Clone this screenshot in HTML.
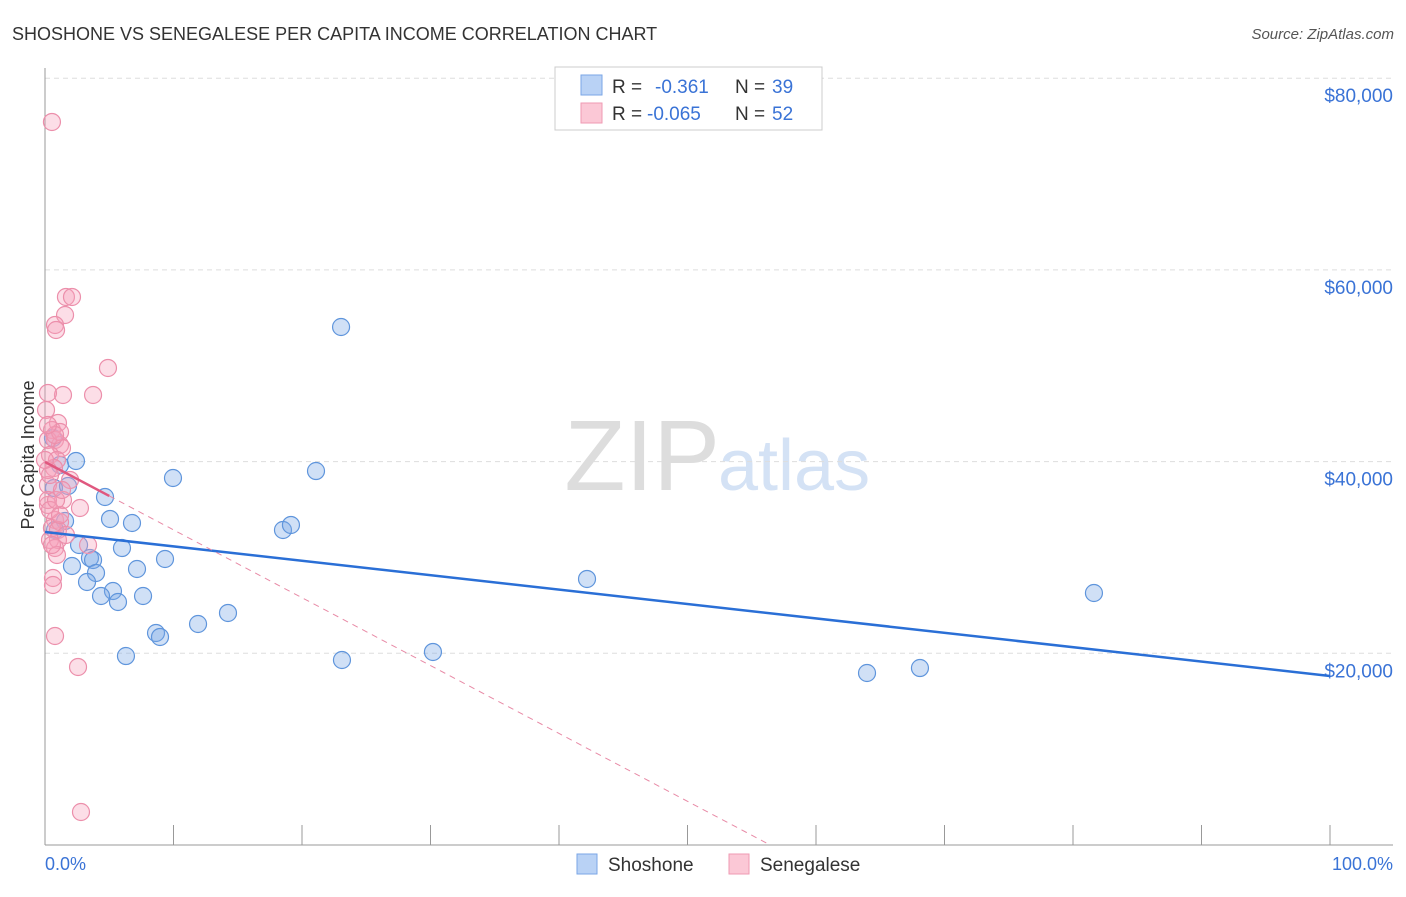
<!DOCTYPE html>
<html><head><meta charset="utf-8"><style>
body{margin:0;background:#fff;font-family:"Liberation Sans",sans-serif;}
svg text{font-family:"Liberation Sans",sans-serif;}
</style></head><body>
<svg id="chart" width="1406" height="892">
<text x="12" y="40" font-size="18" fill="#333">SHOSHONE VS SENEGALESE PER CAPITA INCOME CORRELATION CHART</text>
<text x="1394" y="39" font-size="15" fill="#555" text-anchor="end" font-style="italic">Source: ZipAtlas.com</text>
<text x="720" y="490" font-size="100" fill="#ddd" text-anchor="end" font-family="Liberation Serif">ZIP</text>
<text x="718" y="490" font-size="72" fill="#d4e2f5">atlas</text>
<g id="grid"></g><g id="axes"></g><g id="marks"></g>
<text transform="translate(34,455) rotate(-90)" font-size="18" fill="#333" text-anchor="middle">Per Capita Income</text>
<text x="45" y="870" font-size="18" fill="#3a73d6">0.0%</text>
<text x="1393" y="870" font-size="18" fill="#3a73d6" text-anchor="end">100.0%</text>
<g>
<rect x="555" y="67" width="267" height="63" fill="#fff" stroke="#ccc"/>
<rect x="581" y="75" width="21" height="20" fill="#b9d2f5" stroke="#7aa6e6"/>
<rect x="581" y="103" width="21" height="20" fill="#fbc8d6" stroke="#ef9ab3"/>
<text x="612" y="93" font-size="19" fill="#333">R = </text><text x="655" y="93" font-size="19" fill="#3a73d6">-0.361</text>
<text x="735" y="93" font-size="19" fill="#333">N = </text><text x="772" y="93" font-size="19" fill="#3a73d6">39</text>
<text x="612" y="120" font-size="19" fill="#333">R = </text><text x="647" y="120" font-size="19" fill="#3a73d6">-0.065</text>
<text x="735" y="120" font-size="19" fill="#333">N = </text><text x="772" y="120" font-size="19" fill="#3a73d6">52</text>
</g>
<g>
<rect x="577" y="854" width="20" height="20" fill="#b9d2f5" stroke="#7aa6e6"/>
<text x="608" y="871" font-size="19" fill="#333">Shoshone</text>
<rect x="729" y="854" width="20" height="20" fill="#fbc8d6" stroke="#ef9ab3"/>
<text x="760" y="871" font-size="19" fill="#333">Senegalese</text>
</g>
</svg>
<script>
const yTicks=[20000,40000,60000,80000];
const yTickLabels=["$20,000","$40,000","$60,000","$80,000"];
const shoshoneX=[0.62,1.17,0.70,1.79,2.41,1.56,4.67,5.06,6.77,2.65,5.99,3.50,3.74,2.10,3.97,7.16,9.34,3.27,5.29,4.36,7.63,5.68,8.64,8.95,11.91,14.24,6.30,9.96,23.04,21.09,18.52,19.14,23.11,30.19,42.18,63.97,68.09,81.63,0.78];
const shoshoneY=[42463,39646,37246,37455,40063,33803,36307,34012,33594,31299,30986,29943,29734,29108,28378,28795,29838,27439,26500,25978,25978,25352,22118,21701,23057,24205,19718,38289,54043,39019,32864,33386,19301,20136,27752,17945,18466,26291,32864];
const senegaleseX=[0.54,1.63,2.10,1.56,0.78,0.86,4.90,3.74,1.40,0.23,0.08,1.01,0.54,0.78,1.17,0.23,1.32,0.39,0.93,0.70,1.95,0.23,1.40,2.72,0.23,0.78,0.54,1.17,1.01,0.39,1.01,3.35,0.78,0.93,0.62,0.62,0.78,2.57,2.80,0.23,0.39,1.17,0.78,0,0.23,1.63,0.39,1.17,0.54,0.86,1.32,0.23];
const senegaleseY=[75431,57173,57173,55295,54252,53730,49766,46949,46949,47158,45384,44028,43297,42254,41732,42254,41420,40689,40167,39333,38081,37559,35994,35159,35472,33907,33073,33699,32864,31821,31821,31299,30986,30256,27856,27126,21805,18571,3443,39124,38602,43088,42775,40167,35994,32343,34950,34429,31299,35994,37037,43820];
const shoshoneTrend=[32655,17632];
const senegaleseTrend=[39959,-708];
const NS="http://www.w3.org/2000/svg";
const X0=45,X1=1330,Y0=845,YPX=191.7/20000;
const sx=v=>X0+(X1-X0)*v/100;
const sy=v=>Y0-v*YPX;
function mk(tag,attrs,parent){const e=document.createElementNS(NS,tag);for(const k in attrs)e.setAttribute(k,attrs[k]);parent.appendChild(e);return e;}
const grid=document.getElementById('grid'),axes=document.getElementById('axes'),marks=document.getElementById('marks');
yTicks.forEach((t,i)=>{
 const l=mk('line',{x1:X0,x2:1393,y1:sy(t),y2:sy(t),stroke:'#ddd','stroke-dasharray':'5,4'},grid);
 
 
 const tx=mk('text',{x:1393,y:sy(t)+24,'font-size':19,fill:'#3a73d6','text-anchor':'end'},grid);
 tx.textContent=yTickLabels[i];
 
 
});
const ya=mk('line',{x1:X0,x2:X0,y1:68,y2:Y0,stroke:'#999'},axes);


const xa=mk('line',{x1:X0,x2:1393,y1:Y0,y2:Y0,stroke:'#999'},axes);


for(let i=1;i<=10;i++){const t=mk('line',{x1:sx(i*10),x2:sx(i*10),y1:825,y2:Y0,stroke:'#999'},axes);
 
 }
shoshoneX.forEach((x,i)=>{const c=mk('circle',{cx:sx(x),cy:sy(shoshoneY[i]),r:8.5,fill:'rgba(120,165,230,0.35)',stroke:'#5f95dc','stroke-width':1.2},marks);
 
 });
senegaleseX.forEach((x,i)=>{const c=mk('circle',{cx:sx(x),cy:sy(senegaleseY[i]),r:8.5,fill:'rgba(245,160,185,0.35)',stroke:'#ec8fab','stroke-width':1.2},marks);
 
 });
const bt=mk('line',{x1:sx(0),y1:sy(shoshoneTrend[0]),x2:sx(100),y2:sy(shoshoneTrend[1]),stroke:'#2a6fd6','stroke-width':2.5},marks);


const zx=-senegaleseTrend[0]/senegaleseTrend[1];
const pd=mk('line',{x1:sx(5),y1:sy(senegaleseTrend[0]+5*senegaleseTrend[1]),x2:sx(zx),y2:sy(0),stroke:'#e88aa6','stroke-width':1,'stroke-dasharray':'6,5'},marks);


const ps=mk('line',{x1:sx(0),y1:sy(senegaleseTrend[0]),x2:sx(5),y2:sy(senegaleseTrend[0]+5*senegaleseTrend[1]),stroke:'#e0587f','stroke-width':2.5},marks);


</script>
</body></html>
